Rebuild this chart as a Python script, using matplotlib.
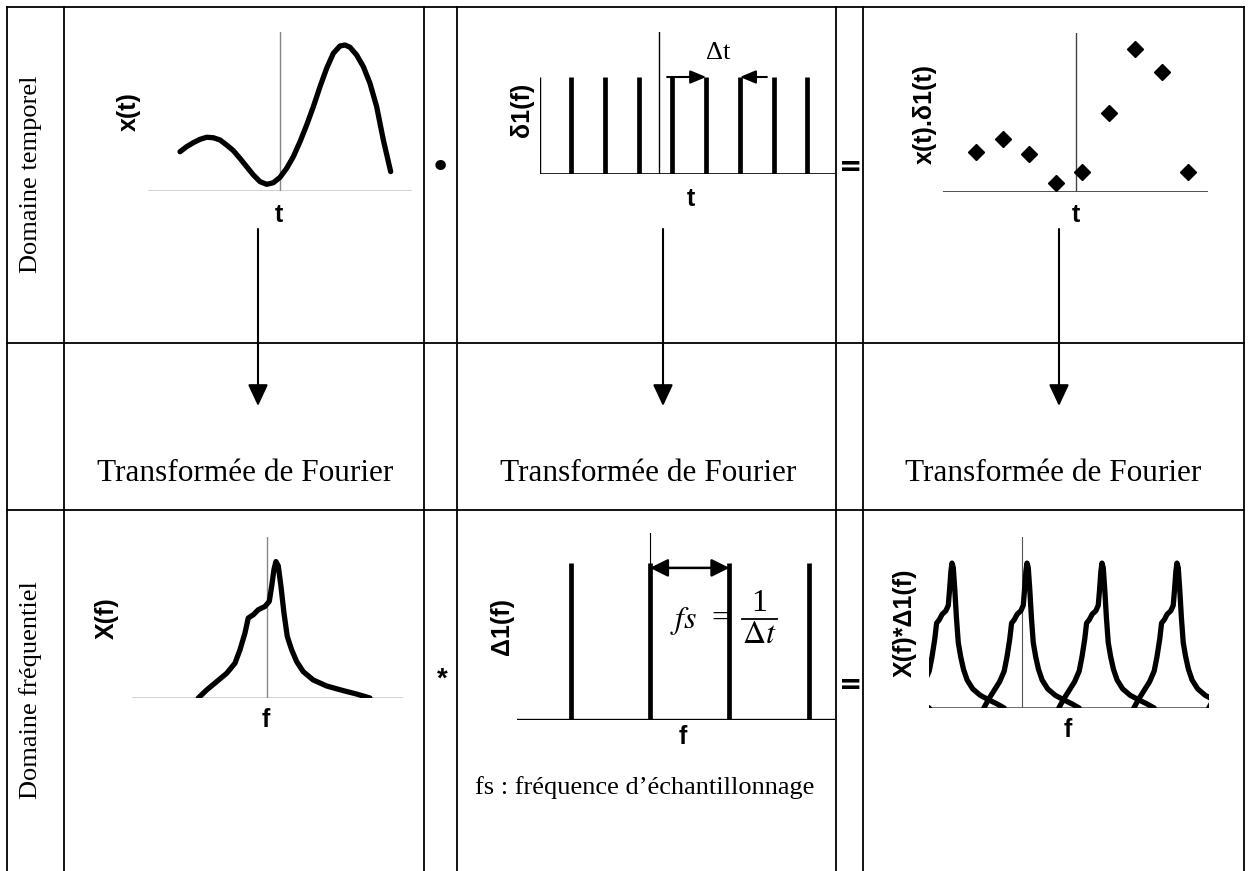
import numpy as np
import matplotlib
matplotlib.use("Agg")
import matplotlib.pyplot as plt

plt.rcParams['mathtext.fontset'] = 'stix'

# ---- data ----
# x(t): continuous time signal (t in arbitrary units, amplitude 0..1)
xt_t = [-3.788, -3.535, -3.283, -3.030, -2.778, -2.525, -2.273, -2.020, -1.768,
        -1.515, -1.263, -1.010, -0.758, -0.505, -0.253, 0.0, 0.253, 0.505,
        0.758, 1.010, 1.263, 1.515, 1.768, 2.020, 2.273, 2.462, 2.652, 2.904,
        3.157, 3.409, 3.662, 3.914, 4.192]
xt_amp = [0.247, 0.279, 0.304, 0.325, 0.338, 0.335, 0.321, 0.289, 0.254,
          0.205, 0.153, 0.101, 0.059, 0.042, 0.052, 0.086, 0.143, 0.216,
          0.310, 0.415, 0.530, 0.656, 0.772, 0.866, 0.912, 0.918, 0.904, 0.855,
          0.782, 0.677, 0.530, 0.321, 0.122]

# delta comb in time (units of dt)
comb_t = [-2.6, -1.6, -0.6, 0.4, 1.4, 2.4, 3.4, 4.4]

# sampled signal x(t).d1(t)
samp_t = [-3.75, -2.75, -1.75, -0.75, 0.25, 1.25, 2.25, 3.25, 4.25]
samp_amp = [0.252, 0.333, 0.239, 0.057, 0.126, 0.497, 0.899, 0.755, 0.126]

# X(f): spectrum
xf_f = [-2.544, -2.233, -1.863, -1.493, -1.185, -1.0, -0.815, -0.693, -0.507,
        -0.322, -0.074, 0.085, 0.174, 0.259, 0.333, 0.419, 0.519, 0.630,
        0.752, 0.915, 1.100, 1.344, 1.715, 2.211, 2.826, 3.322, 3.815]
xf_amp = [0.0, 0.059, 0.120, 0.181, 0.255, 0.353, 0.476, 0.586, 0.610,
          0.647, 0.671, 0.708, 0.818, 0.941, 1.0, 0.968, 0.818, 0.623,
          0.451, 0.353, 0.267, 0.193, 0.132, 0.088, 0.054, 0.029, 0.0]

# frequency comb
fs = 5
comb_f = [-5, 0, 5, 10]
shifts = [-2, -1, 0, 1, 2, 3]

row_titles = ['Domaine temporel', 'Domaine fréquentiel']
tf_label = 'Transformée de Fourier'

W, H = 1248, 871
fig = plt.figure(figsize=(W / 100, H / 100), dpi=100)

bg = fig.add_axes([0, 0, 1, 1])
bg.set_xlim(0, W)
bg.set_ylim(H, 0)
bg.axis('off')

SERIF = 'Liberation Serif'
SANS = 'Liberation Sans'


def px_axes(x0, y0, x1, y1):
    ax = fig.add_axes([x0 / W, 1 - y1 / H, (x1 - x0) / W, (y1 - y0) / H])
    ax.patch.set_alpha(0)
    for s in ax.spines.values():
        s.set_visible(False)
    ax.set_xticks([])
    ax.set_yticks([])
    return ax


# ---- table grid ----
for x in [7, 64, 424, 457, 836, 863, 1244]:
    bg.plot([x, x], [7, H], color='k', lw=1.3)
for y in [7, 343, 510]:
    bg.plot([7, 1244], [y, y], color='k', lw=1.3)

# row titles
bg.text(31, 174, row_titles[0], rotation=90, ha='center', va='center',
        family=SERIF, fontsize=19)
bg.text(31, 690, row_titles[1], rotation=90, ha='center', va='center',
        family=SERIF, fontsize=19)

# operators between columns
bg.text(440, 168, '•', ha='center', va='center', fontsize=26)
bg.text(851, 167, '=', ha='center', va='center', fontsize=20, fontweight='bold')
bg.text(442, 680, '*', ha='center', va='center', fontsize=20, family=SANS,
        fontweight='bold')
bg.text(851, 685, '=', ha='center', va='center', fontsize=20, fontweight='bold')

# arrows + Fourier transform labels
for xa, xt in zip([258, 663, 1059], [245, 648, 1053]):
    bg.annotate('', xy=(xa, 406), xytext=(xa, 229),
                arrowprops=dict(arrowstyle='-|>,head_length=0.6,head_width=0.28',
                                mutation_scale=22, lw=1.5, color='k',
                                shrinkA=0, shrinkB=0))
    bg.text(xt, 473, tf_label, ha='center', va='center', family=SERIF, fontsize=22.5)

# axis labels
lab = dict(family=SANS, fontweight='bold', fontsize=18, ha='center', va='center')
bg.text(129, 112, 'x(t)', rotation=90, **lab)
bg.text(522, 110, 'δ1(f)', rotation=90, **lab)
bg.text(925, 114, 'x(t).δ1(t)', rotation=90, **lab)
bg.text(107, 618, 'X(f)', rotation=90, **lab)
bg.text(502, 626, 'Δ1(f)', rotation=90, **lab)
bg.text(905, 623, 'X(f)*Δ1(f)', rotation=90, **lab)
bg.text(279, 215, 't', **lab)
bg.text(691, 199, 't', **lab)
bg.text(1076, 215, 't', **lab)
bg.text(266, 720, 'f', **lab)
bg.text(683, 737, 'f', **lab)
bg.text(1068, 730, 'f', **lab)

bg.text(645, 788, "fs : fréquence d’échantillonnage", ha='center', va='center',
        family=SERIF, fontsize=19)

# fs = 1 / dt
bg.text(684, 621, r'$fs$', ha='center', va='center', fontsize=23)
bg.text(720, 619, '=', ha='center', va='center', family=SERIF, fontsize=23)
bg.text(759, 603, '1', ha='center', va='center', family=SERIF, fontsize=23)
bg.text(759, 634, r'$\Delta t$', ha='center', va='center', fontsize=23)
bg.plot([742, 777], [619, 619], color='k', lw=1.3)

# ---- x(t) ----
ax1 = px_axes(148, 32, 412, 191)
ax1.set_xlim(-5, 5)
ax1.set_ylim(0, 1)
ax1.axhline(0, color='#222222', lw=1)
ax1.axvline(0, color='#888888', lw=1)
ax1.plot(xt_t, xt_amp, color='k', lw=3.8, solid_capstyle='round',
         solid_joinstyle='round', clip_on=False)

# ---- delta comb (time) ----
ax2 = px_axes(540, 32, 835, 174)
ax2.set_xlim(-3.53, 5.22)
ax2.set_ylim(0, 1.464)
ax2.axhline(0, color='k', lw=1.2)
ax2.axvline(0, color='k', lw=1)
ax2.vlines(ax2.get_xlim()[0], 0, 1, color='k', lw=1)
ax2.vlines(comb_t, 0, 1, color='k', lw=3.4)
ax2.annotate('', xy=(comb_t[4], 1), xytext=(0.24, 1),
             arrowprops=dict(arrowstyle='-|>,head_length=0.6,head_width=0.25',
                             mutation_scale=16, lw=1.5, color='k',
                             shrinkA=0, shrinkB=0))
ax2.annotate('', xy=(comb_t[5], 1), xytext=(3.2, 1),
             arrowprops=dict(arrowstyle='-|>,head_length=0.6,head_width=0.25',
                             mutation_scale=16, lw=1.5, color='k',
                             shrinkA=0, shrinkB=0))
ax2.text(1.75, 1.25, 'Δt', ha='center', va='center', family=SERIF, fontsize=19)

# ---- sampled signal ----
ax3 = px_axes(943, 33, 1208, 192)
ax3.set_xlim(-5, 5)
ax3.set_ylim(0, 1)
ax3.axhline(0, color='#333333', lw=1.2)
ax3.axvline(0, color='#444444', lw=1)
ax3.plot(samp_t, samp_amp, 'D', color='k', ms=8, clip_on=False)

# ---- X(f) ----
ax4 = px_axes(132, 537, 403, 698)
ax4.set_xlim(-5, 5.04)
ax4.set_ylim(0, 1.18)
ax4.axhline(0, color='#222222', lw=1)
ax4.axvline(0, color='#888888', lw=1)
ax4.plot(xf_f, xf_amp, color='k', lw=3.8, solid_joinstyle='round',
         solid_capstyle='round')

# ---- frequency comb ----
ax5 = px_axes(517, 533, 835, 720)
ax5.set_xlim(-8.39, 11.66)
ax5.set_ylim(0, 1.19)
ax5.axhline(0, color='k', lw=2.4)
ax5.axvline(0, color='k', lw=0.8)
ax5.vlines(comb_f, 0, 1, color='k', lw=3.4)
ax5.annotate('', xy=(comb_f[2], 0.968), xytext=(comb_f[1], 0.968),
             arrowprops=dict(arrowstyle='<|-|>,head_length=0.6,head_width=0.3',
                             mutation_scale=18, lw=1.8, color='k',
                             shrinkA=0, shrinkB=0))

# ---- X(f) * comb ----
ax6 = px_axes(929, 537, 1209, 708)
ax6.set_xlim(-6.2, 12.47)
ax6.set_ylim(0, 1.18)
ax6.axhline(0, color='#555555', lw=1.2)
ax6.axvline(0, color='#555555', lw=0.8)
for k in shifts:
    ax6.plot(np.array(xf_f) + k * fs, xf_amp, color='k', lw=3.8,
             solid_joinstyle='round', solid_capstyle='round')

fig.savefig('out.png', dpi=100)
